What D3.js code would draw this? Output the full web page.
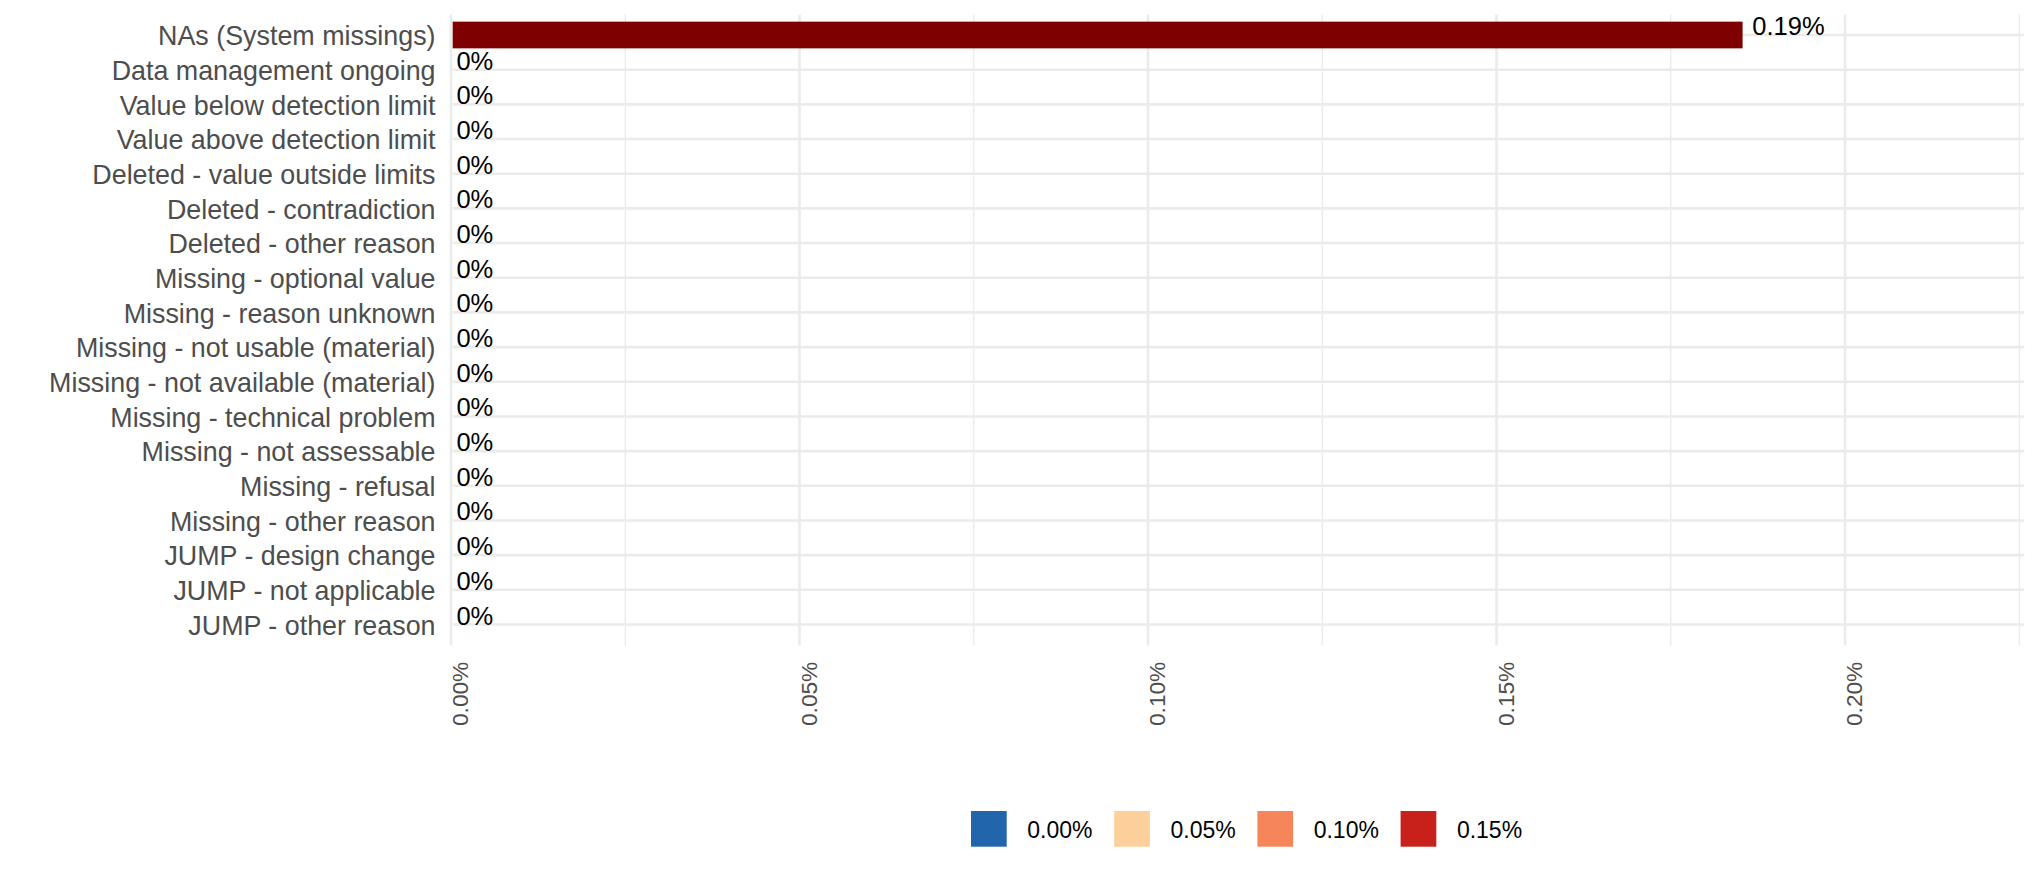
<!DOCTYPE html>
<html>
<head>
<meta charset="utf-8">
<script src="https://cdn.jsdelivr.net/npm/d3@7/dist/d3.min.js"></script>
<style>
  html, body { margin: 0; padding: 0; background: #ffffff; }
  svg { display: block; font-family: "Liberation Sans", Arial, Helvetica, sans-serif; }
</style>
</head>
<body>
<svg id="chart" width="2039" height="882"></svg>
<script>
// ---- data ----
const categories = [
  "NAs (System missings)",
  "Data management ongoing",
  "Value below detection limit",
  "Value above detection limit",
  "Deleted - value outside limits",
  "Deleted - contradiction",
  "Deleted - other reason",
  "Missing - optional value",
  "Missing - reason unknown",
  "Missing - not usable (material)",
  "Missing - not available (material)",
  "Missing - technical problem",
  "Missing - not assessable",
  "Missing - refusal",
  "Missing - other reason",
  "JUMP - design change",
  "JUMP - not applicable",
  "JUMP - other reason"
];
const values = [0.1853, 0, 0, 0, 0, 0, 0, 0, 0, 0, 0, 0, 0, 0, 0, 0, 0, 0]; // percent
const valueLabels = ["0.19%", "0%", "0%", "0%", "0%", "0%", "0%", "0%", "0%", "0%", "0%", "0%", "0%", "0%", "0%", "0%", "0%", "0%"];
const barColor = "#7f0000";
const xTicks = [0, 0.05, 0.10, 0.15, 0.20];
const xTickLabels = ["0.00%", "0.05%", "0.10%", "0.15%", "0.20%"];
const xMinorTicks = [0.025, 0.075, 0.125, 0.175, 0.225];
const legendLabels = ["0.00%", "0.05%", "0.10%", "0.15%"];
const legendColors = ["#2166ac", "#fdd09b", "#f7855a", "#c8201a"];

// ---- layout ----
const svg = d3.select("#chart");
const panel = { left: 451, right: 2019.3, top: 14.5, bottom: 645.5 };

const x = d3.scaleLinear().domain([0, 0.225]).range([panel.left, panel.right]);
const y = d3.scalePoint().domain(categories).range([35, 624.5]);
const barH = 26.7;

// grid
const grid = svg.append("g");
grid.selectAll("line.minor").data(xMinorTicks).join("line")
  .attr("x1", d => x(d)).attr("x2", d => x(d))
  .attr("y1", panel.top).attr("y2", panel.bottom)
  .attr("stroke", "#ebebeb").attr("stroke-width", 1.3);
grid.selectAll("line.major").data(xTicks).join("line")
  .attr("x1", d => x(d)).attr("x2", d => x(d))
  .attr("y1", panel.top).attr("y2", panel.bottom)
  .attr("stroke", "#ebebeb").attr("stroke-width", 2.6);
grid.selectAll("line.h").data(categories).join("line")
  .attr("x1", panel.left + 1.7).attr("x2", panel.right + 5)
  .attr("y1", d => y(d)).attr("y2", d => y(d))
  .attr("stroke", "#ebebeb").attr("stroke-width", 2.6);

// bars
svg.append("g").selectAll("rect").data(categories).join("rect")
  .attr("x", x(0) + 1.7)
  .attr("y", d => y(d) - barH / 2)
  .attr("width", (d, i) => Math.max(0, x(values[i]) - x(0) - 1.7))
  .attr("height", barH)
  .attr("fill", barColor);

// value labels (hjust ~ -0.12, baseline at row centre)
const vl = svg.append("g").selectAll("text").data(categories).join("text")
  .attr("y", d => y(d))
  .attr("font-size", "25.5px")
  .attr("fill", "#000000")
  .text((d, i) => valueLabels[i]);
vl.attr("x", function (d, i) {
  const w = this.getComputedTextLength();
  return x(values[i]) + 0.12 * w + 1;
});

// y axis labels
svg.append("g").selectAll("text").data(categories).join("text")
  .attr("x", 435.5)
  .attr("y", d => y(d) + 10.3)
  .attr("text-anchor", "end")
  .attr("font-size", "26.85px")
  .attr("fill", "#4d4d4d")
  .text(d => d);

// x axis tick labels (rotated)
svg.append("g").selectAll("text").data(xTicks).join("text")
  .attr("transform", d => `translate(${x(d) + 17.3},661.7) rotate(-90)`)
  .attr("text-anchor", "end")
  .attr("font-size", "22.7px")
  .attr("fill", "#4d4d4d")
  .text((d, i) => xTickLabels[i]);

// legend
const legStart = 971, legStep = 143.2, keySize = 35.7, legTop = 811;
const leg = svg.append("g");
leg.selectAll("rect").data(legendLabels).join("rect")
  .attr("x", (d, i) => legStart + i * legStep)
  .attr("y", legTop)
  .attr("width", keySize).attr("height", keySize)
  .attr("fill", (d, i) => legendColors[i]);
leg.selectAll("text").data(legendLabels).join("text")
  .attr("x", (d, i) => legStart + i * legStep + 56.3)
  .attr("y", 838.3)
  .attr("font-size", "23px")
  .attr("fill", "#000000")
  .text(d => d);
</script>
</body>
</html>
